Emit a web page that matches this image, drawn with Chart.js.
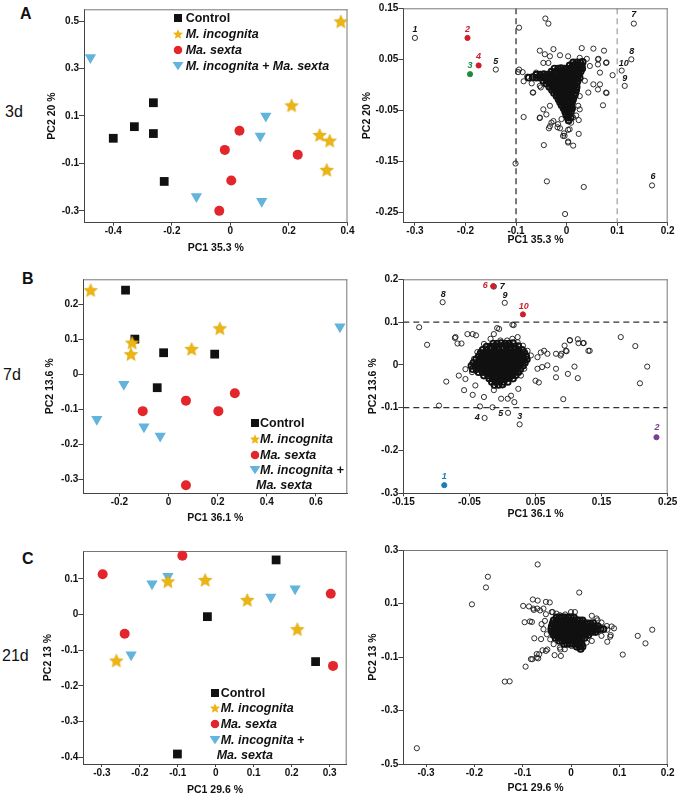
<!DOCTYPE html>
<html><head><meta charset="utf-8">
<script src="https://cdn.jsdelivr.net/npm/chart.js@4.4.1/dist/chart.umd.min.js"></script>
<style>
body{margin:0;background:#fff;}
#wrap{position:relative;width:680px;height:799px;overflow:hidden;background:#fff;font-family:"Liberation Sans",Arial,Helvetica,sans-serif;color:#111;}
#wrap canvas{position:absolute;}
.t{position:absolute;white-space:nowrap;transform:translateY(-50%);line-height:1;}
.lg{font-weight:bold;font-size:12.5px;}
.lg i{font-style:italic;}
.mk{position:absolute;transform:translate(-50%,-50%);line-height:0;}
.pl{font-weight:bold;font-size:16px;}
.dl{font-size:16px;}
</style></head><body><div id="wrap"></div>
<script>
// ---------------- DATA ----------------
const groupNames = ['Control', 'M. incognita', 'Ma. sexta', 'M. incognita + Ma. sexta'];

// Panel A (3d) scores
const a3dControl   = [[-0.400,0.006],[-0.328,0.055],[-0.263,0.156],[-0.263,0.026],[-0.226,-0.176]];
const a3dIncognita = [[0.377,0.499],[0.209,0.145],[0.305,0.020],[0.339,-0.004],[0.329,-0.127]];
const a3dSexta     = [[0.031,0.038],[-0.019,-0.043],[0.230,-0.063],[0.003,-0.172],[-0.038,-0.300]];
const a3dBoth      = [[-0.478,0.347],[0.121,0.100],[0.102,0.016],[-0.116,-0.240],[0.107,-0.260]];
const aXTicks = [-0.4,-0.2,0,0.2,0.4];
const aYTicks = [-0.3,-0.1,0.1,0.3,0.5];

// Panel A (3d) loadings
const aLoadOuter = [[-0.094,0.112],[-0.042,0.130],[-0.036,0.120],[-0.101,-0.154],[-0.039,-0.189],[0.034,-0.200],[-0.003,-0.253],[-0.045,-0.118],[-0.085,-0.063],[-0.067,-0.015],[-0.053,-0.065],[-0.035,-0.085],[-0.030,-0.074],[-0.018,-0.083],[-0.013,-0.085],[0.003,-0.088],[-0.005,-0.095],[-0.004,-0.100],[0.003,-0.111],[0.013,-0.119],[0.024,-0.096],[0.024,-0.069],[0.072,-0.040],[0.079,-0.016],[0.091,0.019],[0.079,0.044],[0.074,0.067],[0.053,0.071],[0.030,0.072],[-0.026,0.070],[-0.053,0.067],[0.063,0.051],[0.066,0.001],[-0.087,0.025],[-0.085,0.007],[-0.078,0.016],[-0.069,0.003],[-0.051,-0.005],[-0.043,0.060],[-0.033,0.056],[-0.013,0.058],[0.003,0.056],[0.026,0.053],[0.040,0.051],[0.062,0.050],[0.078,0.043],[0.062,0.040],[-0.046,0.043],[-0.036,0.043],[0.046,0.037],[0.066,0.024],[-0.096,0.025],[-0.060,0.024],[-0.066,-0.015],[-0.053,-0.002],[0.036,0.008],[0.053,0.001],[0.062,-0.009],[0.078,-0.015],[0.026,-0.022],[0.043,-0.015],[-0.033,-0.041],[-0.046,-0.048],[-0.053,-0.064],[-0.040,-0.058],[-0.026,-0.071],[-0.010,-0.067],[0.013,-0.064],[0.023,-0.041],[0.026,-0.048],[-0.033,-0.081],[-0.017,-0.077],[0.006,-0.087],[-0.007,-0.100],[0.003,-0.113],[0.009,-0.074],[0.019,-0.060],[0.006,-0.051],[-0.094,0.030]];
const aLoadCore = [[0.013,0.044],[0.020,0.044],[0.027,0.044],[0.032,0.045],[0.006,0.038],[0.012,0.038],[0.018,0.039],[0.024,0.038],[0.030,0.038],[-0.024,0.032],[-0.017,0.032],[-0.011,0.033],[-0.004,0.032],[0.002,0.032],[0.008,0.032],[0.014,0.033],[0.020,0.032],[0.026,0.032],[0.031,0.032],[-0.030,0.026],[-0.021,0.026],[-0.014,0.027],[-0.008,0.026],[-0.001,0.026],[0.005,0.026],[0.011,0.026],[0.017,0.027],[0.023,0.026],[0.028,0.026],[-0.060,0.020],[-0.052,0.020],[-0.045,0.021],[-0.038,0.020],[-0.031,0.020],[-0.025,0.020],[-0.019,0.021],[-0.013,0.020],[-0.007,0.020],[0.000,0.020],[0.006,0.021],[0.012,0.020],[0.018,0.020],[0.024,0.020],[-0.075,0.014],[-0.067,0.015],[-0.060,0.014],[-0.053,0.014],[-0.046,0.014],[-0.040,0.015],[-0.034,0.014],[-0.028,0.014],[-0.022,0.014],[-0.016,0.015],[-0.010,0.014],[-0.004,0.014],[0.003,0.014],[0.009,0.015],[0.015,0.014],[0.021,0.014],[0.026,0.014],[-0.046,0.008],[-0.039,0.008],[-0.032,0.009],[-0.026,0.008],[-0.020,0.008],[-0.014,0.008],[-0.008,0.009],[-0.002,0.008],[0.004,0.008],[0.010,0.008],[0.016,0.009],[0.022,0.008],[-0.040,0.002],[-0.034,0.002],[-0.028,0.003],[-0.022,0.002],[-0.016,0.002],[-0.010,0.002],[-0.004,0.003],[0.002,0.002],[0.008,0.002],[0.014,0.002],[0.020,0.003],[-0.034,-0.004],[-0.028,-0.004],[-0.022,-0.003],[-0.016,-0.004],[-0.010,-0.004],[-0.004,-0.004],[0.002,-0.003],[0.008,-0.004],[0.014,-0.004],[0.020,-0.004],[-0.029,-0.010],[-0.023,-0.010],[-0.017,-0.009],[-0.011,-0.010],[-0.005,-0.010],[0.001,-0.010],[0.007,-0.009],[0.013,-0.010],[0.019,-0.010],[-0.025,-0.016],[-0.019,-0.016],[-0.013,-0.015],[-0.007,-0.016],[-0.001,-0.016],[0.005,-0.016],[0.011,-0.015],[0.017,-0.016],[-0.020,-0.022],[-0.014,-0.022],[-0.008,-0.021],[-0.002,-0.022],[0.004,-0.022],[0.010,-0.022],[0.016,-0.021],[-0.016,-0.028],[-0.010,-0.028],[-0.004,-0.027],[0.002,-0.028],[0.008,-0.028],[0.013,-0.028],[-0.013,-0.034],[-0.007,-0.034],[-0.001,-0.033],[0.005,-0.034],[0.011,-0.034],[-0.010,-0.040],[-0.004,-0.040],[0.002,-0.039],[0.008,-0.040],[-0.006,-0.046],[0.000,-0.046],[0.006,-0.045],[0.011,-0.046],[-0.003,-0.052],[0.003,-0.052],[0.009,-0.051],[-0.001,-0.058],[0.005,-0.058],[0.002,-0.064],[0.008,-0.064],[0.004,-0.070]];
const aLabNames = ['1','2','3','4','5','6','7','8','9','10'];
const aLabPts = [[-0.300,0.092],[-0.196,0.092],[-0.191,0.021],[-0.174,0.038],[-0.140,0.030],[0.169,-0.197],[0.133,0.120],[0.128,0.050],[0.115,-0.002],[0.109,0.028]];
const aRefX = [-0.1, 0.1];
const aLoadXTicks = [-0.3,-0.2,-0.1,0,0.1,0.2];
const aLoadYTicks = [-0.25,-0.15,-0.05,0.05,0.15];

// Panel B (7d) scores
const b7dControl   = [[-0.175,0.241],[-0.137,0.101],[-0.020,0.062],[0.188,0.058],[-0.046,-0.038]];
const b7dIncognita = [[-0.317,0.241],[-0.148,0.091],[-0.153,0.058],[0.094,0.073],[0.209,0.132]];
const b7dSexta     = [[0.071,-0.075],[-0.105,-0.105],[0.203,-0.105],[0.270,-0.054],[0.071,-0.317]];
const b7dBoth      = [[0.698,0.136],[-0.182,-0.028],[-0.292,-0.128],[-0.100,-0.150],[-0.034,-0.176]];
const bXTicks = [-0.2,0,0.2,0.4,0.6];
const bYTicks = [-0.3,-0.2,-0.1,0,0.1,0.2];

// Panel B (7d) loadings
const bLoadOuter = [[-0.071,0.065],[0.017,0.093],[-0.053,0.072],[-0.045,0.072],[-0.040,0.069],[-0.068,0.050],[-0.062,0.050],[-0.013,0.072],[-0.005,0.084],[-0.003,0.057],[0.007,0.057],[0.015,0.061],[0.023,0.053],[0.020,0.045],[0.102,0.057],[0.115,0.051],[0.123,0.051],[0.132,0.033],[0.094,0.045],[0.097,0.032],[0.081,0.026],[0.088,0.022],[0.063,0.033],[0.058,0.029],[0.068,0.026],[0.053,0.018],[0.068,-0.001],[0.060,-0.005],[0.053,-0.009],[0.081,-0.009],[0.099,-0.021],[0.109,-0.004],[0.114,-0.031],[0.081,-0.029],[0.050,-0.037],[0.055,-0.041],[0.092,-0.080],[-0.085,-0.039],[-0.066,-0.025],[-0.056,-0.033],[-0.058,-0.059],[-0.045,-0.070],[-0.056,-0.010],[-0.041,-0.048],[-0.028,-0.075],[-0.013,-0.059],[-0.002,-0.079],[0.008,-0.079],[0.018,-0.087],[0.024,-0.056],[0.013,-0.072],[-0.015,-0.099],[-0.034,-0.097],[-0.096,-0.095],[-0.126,0.088],[-0.114,0.047],[0.179,0.065],[0.201,0.044],[0.219,-0.004],[0.208,-0.043],[0.130,0.033],[0.122,0.051],[0.096,0.033],[0.089,0.026],[-0.072,0.063],[-0.008,0.086],[0.015,0.094],[0.038,0.033],[0.043,0.022],[0.035,0.010],[0.033,-0.009],[0.028,-0.025],[-0.038,0.030],[-0.043,0.014],[-0.046,-0.017],[-0.028,0.049],[0.031,0.045],[-0.018,0.061],[0.023,0.065],[0.102,0.058],[0.114,0.060]];
const bLoadCore = [[-0.014,0.050],[-0.008,0.050],[-0.002,0.051],[0.004,0.050],[0.010,0.050],[0.016,0.051],[-0.024,0.043],[-0.018,0.043],[-0.012,0.044],[-0.006,0.043],[0.000,0.043],[0.006,0.044],[0.012,0.043],[0.018,0.043],[0.024,0.044],[-0.030,0.035],[-0.024,0.035],[-0.018,0.036],[-0.012,0.035],[-0.006,0.035],[0.000,0.036],[0.006,0.035],[0.012,0.035],[0.018,0.036],[0.024,0.035],[0.030,0.035],[-0.033,0.028],[-0.027,0.028],[-0.021,0.029],[-0.015,0.028],[-0.009,0.028],[-0.003,0.029],[0.003,0.028],[0.009,0.028],[0.015,0.029],[0.021,0.028],[0.027,0.028],[0.033,0.029],[-0.036,0.020],[-0.030,0.020],[-0.024,0.021],[-0.018,0.020],[-0.012,0.020],[-0.006,0.021],[0.000,0.020],[0.006,0.020],[0.012,0.021],[0.018,0.020],[0.024,0.020],[0.030,0.021],[0.036,0.020],[-0.040,0.013],[-0.034,0.013],[-0.028,0.014],[-0.022,0.013],[-0.016,0.013],[-0.010,0.014],[-0.004,0.013],[0.002,0.013],[0.008,0.014],[0.014,0.013],[0.020,0.013],[0.026,0.014],[0.032,0.013],[0.037,0.013],[-0.044,0.005],[-0.038,0.005],[-0.032,0.006],[-0.026,0.005],[-0.020,0.005],[-0.014,0.006],[-0.008,0.005],[-0.002,0.005],[0.004,0.006],[0.010,0.005],[0.016,0.005],[0.022,0.006],[0.028,0.005],[0.034,0.005],[-0.047,-0.002],[-0.041,-0.002],[-0.035,-0.001],[-0.029,-0.002],[-0.023,-0.002],[-0.017,-0.001],[-0.011,-0.002],[-0.005,-0.002],[0.001,-0.001],[0.007,-0.002],[0.013,-0.002],[0.019,-0.001],[0.025,-0.002],[0.031,-0.002],[-0.045,-0.010],[-0.039,-0.010],[-0.033,-0.009],[-0.027,-0.010],[-0.021,-0.010],[-0.015,-0.009],[-0.009,-0.010],[-0.003,-0.010],[0.003,-0.009],[0.009,-0.010],[0.015,-0.010],[0.021,-0.009],[0.027,-0.010],[-0.036,-0.017],[-0.030,-0.017],[-0.024,-0.016],[-0.018,-0.017],[-0.012,-0.017],[-0.006,-0.016],[0.000,-0.017],[0.006,-0.017],[0.012,-0.016],[0.018,-0.017],[0.024,-0.017],[-0.028,-0.025],[-0.022,-0.025],[-0.016,-0.024],[-0.010,-0.025],[-0.004,-0.025],[0.002,-0.024],[0.008,-0.025],[0.014,-0.025],[0.020,-0.024],[-0.020,-0.032],[-0.014,-0.032],[-0.008,-0.031],[-0.002,-0.032],[0.004,-0.032],[0.010,-0.031],[0.016,-0.032],[-0.016,-0.040],[-0.010,-0.040],[-0.004,-0.039],[0.002,-0.040],[0.008,-0.040],[-0.012,-0.047],[-0.006,-0.047],[0.000,-0.046]];
const bLabNames = ['1','2','3','4','5','7','6','8','9','10'];
const bLabPts = [[-0.088,-0.281],[0.233,-0.169],[0.026,-0.139],[-0.027,-0.124],[0.0085,-0.112],[-0.013,0.183],[-0.014,0.184],[-0.0905,0.1465],[0.0035,0.145],[0.031,0.118]];
const bRefY = [-0.1, 0.1];
const bLoadXTicks = [-0.15,-0.05,0.05,0.15,0.25];
const bLoadYTicks = [-0.3,-0.2,-0.1,0,0.1,0.2];

// Panel C (21d) scores
const c21dControl   = [[0.159,0.153],[-0.022,-0.006],[0.263,-0.132],[-0.101,-0.391]];
const c21dIncognita = [[-0.028,0.097],[-0.126,0.093],[0.083,0.041],[0.215,-0.041],[-0.262,-0.129]];
const c21dSexta     = [[-0.088,0.165],[-0.298,0.113],[0.303,0.058],[-0.240,-0.054],[0.309,-0.144]];
const c21dBoth      = [[-0.126,0.107],[-0.168,0.086],[0.145,0.049],[0.209,0.072],[-0.223,-0.113]];
const cXTicks = [-0.3,-0.2,-0.1,0,0.1,0.2,0.3];
const cYTicks = [-0.4,-0.3,-0.2,-0.1,0,0.1];

// Panel C (21d) loadings
const cLoadOuter = [[-0.069,0.246],[-0.172,0.200],[-0.176,0.160],[-0.205,0.097],[0.017,0.141],[-0.099,0.091],[-0.096,0.030],[-0.085,0.033],[-0.079,0.115],[-0.069,0.111],[-0.077,0.076],[-0.087,0.089],[-0.064,0.074],[-0.052,0.106],[-0.137,-0.192],[-0.127,-0.191],[-0.319,-0.441],[-0.094,-0.136],[-0.083,-0.108],[-0.071,-0.089],[-0.068,-0.105],[0.138,-0.021],[0.154,-0.049],[0.168,0.002],[0.107,-0.091],[0.075,-0.043],[0.082,-0.018],[0.089,0.007],[0.075,0.002],[0.055,0.037],[-0.034,-0.093],[-0.049,-0.072],[-0.059,-0.075],[-0.062,-0.033],[-0.076,-0.030],[-0.054,0.035],[-0.040,0.068],[-0.022,-0.072],[-0.012,0.059],[0.000,0.068],[-0.081,0.031],[-0.070,0.081],[-0.078,0.081],[-0.057,0.081],[-0.044,0.104],[-0.052,0.060],[-0.038,0.068],[-0.030,0.062],[0.008,0.068],[-0.023,0.056],[-0.061,0.023],[-0.057,0.004],[-0.050,-0.015],[-0.043,-0.034],[-0.052,-0.077],[-0.036,-0.052],[-0.023,-0.065],[-0.013,-0.071],[0.001,-0.059],[0.019,-0.071],[0.032,-0.046],[0.043,-0.040],[0.053,0.044],[0.063,0.029],[0.074,0.016],[0.084,0.014],[0.063,-0.021],[0.081,-0.024],[0.056,-0.002],[-0.071,-0.102],[-0.066,-0.090],[-0.080,-0.108],[-0.021,-0.096],[0.043,0.054]];
const cLoadCore = [[-0.030,0.048],[-0.024,0.048],[-0.018,0.049],[-0.012,0.048],[-0.006,0.048],[0.000,0.049],[0.006,0.048],[-0.036,0.037],[-0.030,0.037],[-0.024,0.038],[-0.018,0.037],[-0.012,0.037],[-0.006,0.038],[0.000,0.037],[0.006,0.037],[0.012,0.038],[0.018,0.037],[0.024,0.037],[-0.038,0.026],[-0.032,0.026],[-0.026,0.027],[-0.020,0.026],[-0.014,0.026],[-0.008,0.027],[-0.002,0.026],[0.004,0.026],[0.010,0.027],[0.016,0.026],[0.022,0.026],[0.028,0.027],[0.034,0.026],[0.040,0.026],[0.046,0.027],[-0.040,0.015],[-0.034,0.015],[-0.028,0.016],[-0.022,0.015],[-0.016,0.015],[-0.010,0.016],[-0.004,0.015],[0.002,0.015],[0.008,0.016],[0.014,0.015],[0.020,0.015],[0.026,0.016],[0.032,0.015],[0.038,0.015],[0.044,0.016],[0.050,0.015],[0.056,0.015],[-0.041,0.004],[-0.035,0.004],[-0.029,0.005],[-0.023,0.004],[-0.017,0.004],[-0.011,0.005],[-0.005,0.004],[0.001,0.004],[0.007,0.005],[0.013,0.004],[0.019,0.004],[0.025,0.005],[0.031,0.004],[0.037,0.004],[0.043,0.005],[0.049,0.004],[0.055,0.004],[0.061,0.005],[0.067,0.004],[-0.039,-0.007],[-0.033,-0.007],[-0.027,-0.006],[-0.021,-0.007],[-0.015,-0.007],[-0.009,-0.006],[-0.003,-0.007],[0.003,-0.007],[0.009,-0.006],[0.015,-0.007],[0.021,-0.007],[0.027,-0.006],[0.033,-0.007],[0.039,-0.007],[0.045,-0.006],[0.051,-0.007],[-0.036,-0.018],[-0.030,-0.018],[-0.024,-0.017],[-0.018,-0.018],[-0.012,-0.018],[-0.006,-0.017],[0.000,-0.018],[0.006,-0.018],[0.012,-0.017],[0.018,-0.018],[0.024,-0.018],[0.030,-0.017],[0.036,-0.018],[-0.032,-0.029],[-0.026,-0.029],[-0.020,-0.028],[-0.014,-0.029],[-0.008,-0.029],[-0.002,-0.028],[0.004,-0.029],[0.010,-0.029],[0.016,-0.028],[0.022,-0.029],[0.028,-0.029],[-0.024,-0.040],[-0.018,-0.040],[-0.012,-0.039],[-0.006,-0.040],[0.000,-0.040],[0.006,-0.039],[0.012,-0.040],[0.018,-0.040],[-0.014,-0.051],[-0.008,-0.051],[-0.002,-0.050],[0.004,-0.051],[0.010,-0.051],[0.016,-0.050],[0.022,-0.051],[0.012,-0.062],[0.018,-0.062],[0.024,-0.061],[0.020,-0.070]];
const cLoadXTicks = [-0.3,-0.2,-0.1,0,0.1,0.2];
const cLoadYTicks = [-0.5,-0.3,-0.1,0.1,0.3];

// ---------------- STYLE ----------------
const FONT = '"Liberation Sans", Arial, Helvetica, sans-serif';
Chart.defaults.font.family = FONT;
const COL = {ctrl:'#111111', inc:'#ecb513', sex:'#e2262b', both:'#62b4dc', red:'#cc1f2d', green:'#1e8b3a', blue:'#1b7db8', purple:'#7a3d8f', open:'rgba(255,255,255,0)'};
const TITLE_FS = 10.5, TITLE_LH = TITLE_FS * 1.2;

function makeStar(R, fill) {
  const s = Math.ceil(R * 2 + 2);
  const c = document.createElement('canvas'); c.width = s; c.height = s;
  const g = c.getContext('2d');
  const cx = s / 2, cy = s / 2 + R * 0.095;
  g.beginPath();
  for (let i = 0; i < 10; i++) {
    const r = i % 2 === 0 ? R : R * 0.45;
    const a = -Math.PI / 2 + i * Math.PI / 5;
    g.lineTo(cx + r * Math.cos(a), cy + r * Math.sin(a));
  }
  g.closePath(); g.fillStyle = fill; g.fill();
  g.strokeStyle = '#d9a200'; g.lineWidth = 0.6; g.stroke();
  return c;
}
const starImg = makeStar(7, COL.inc);

const toXY = arr => arr.map(p => ({x: p[0], y: p[1]}));
const fmt = v => String(Math.round(v * 100) / 100);

function axis(min, max, ticksArr, title, titlePad, size, isX) {
  return {
    type: 'linear', min, max,
    afterBuildTicks: s => { s.ticks = ticksArr.map(v => ({value: v})); },
    afterFit: s => { if (isX) s.height = size; else s.width = size; s.paddingLeft = 0; s.paddingRight = 0; s.paddingTop = 0; s.paddingBottom = 0; },
    grid: {display: true, drawOnChartArea: false, drawTicks: true, tickLength: isX ? 3 : 5, color: '#444', lineWidth: 1},
    border: {display: true, color: '#444', width: 1},
    ticks: {padding: 0, color: '#111', autoSkip: false, maxRotation: 0, font: {size: 10, weight: 'bold'}, callback: v => fmt(v)},
    title: {display: true, text: title, color: '#111', font: {size: TITLE_FS, weight: 'bold'}, padding: titlePad}
  };
}

const deco = {
  id: 'deco',
  beforeDatasetsDraw(chart, args, o) {
    const {ctx, chartArea: a, scales} = chart;
    ctx.save();
    (o.refX || []).forEach((v, i) => {
      const st = o.refXStyle[i]; const px = scales.x.getPixelForValue(v);
      ctx.beginPath(); ctx.setLineDash(st.dash); ctx.strokeStyle = st.color; ctx.lineWidth = st.width;
      ctx.moveTo(px, a.top); ctx.lineTo(px, a.bottom); ctx.stroke();
    });
    (o.refY || []).forEach((v, i) => {
      const st = o.refYStyle[i]; const py = scales.y.getPixelForValue(v);
      ctx.beginPath(); ctx.setLineDash(st.dash); ctx.strokeStyle = st.color; ctx.lineWidth = st.width;
      ctx.moveTo(a.left, py); ctx.lineTo(a.right, py); ctx.stroke();
    });
    ctx.setLineDash([]);
    ctx.strokeStyle = '#777'; ctx.lineWidth = 1;
    ctx.beginPath(); ctx.moveTo(a.left, a.top + 0.5); ctx.lineTo(a.right, a.top + 0.5);
    ctx.moveTo(a.right - 0.5, a.top); ctx.lineTo(a.right - 0.5, a.bottom); ctx.stroke();
    ctx.restore();
  },
  afterDatasetsDraw(chart, args, o) {
    if (!o.labels) return;
    const {ctx} = chart; const L = o.labels;
    const meta = chart.getDatasetMeta(L.dataset);
    ctx.save();
    ctx.font = 'italic bold 9px ' + FONT; ctx.textAlign = 'center'; ctx.textBaseline = 'middle';
    L.names.forEach((n, i) => {
      const el = meta.data[i];
      ctx.fillStyle = L.colors[i];
      ctx.fillText(n, el.x + L.off[i][0], el.y + L.off[i][1]);
    });
    ctx.restore();
  }
};

const wrap = document.getElementById('wrap');

function build(p) {
  const c = document.createElement('canvas');
  c.width = p.box.w; c.height = p.box.h;
  Object.assign(c.style, {left: p.box.x + 'px', top: p.box.y + 'px', width: p.box.w + 'px', height: p.box.h + 'px'});
  wrap.appendChild(c);
  const yPad = p.yTitleX - p.box.x - TITLE_LH / 2;
  const xPad = p.box.y + p.box.h - TITLE_LH / 2 - p.xTitleY;
  new Chart(c, {
    type: 'scatter',
    data: {datasets: p.datasets},
    options: {
      responsive: false, animation: false, devicePixelRatio: 1, events: [],
      layout: {padding: {left: 0, top: p.area.t - p.box.y, right: p.box.x + p.box.w - p.area.r, bottom: 0}},
      scales: {
        x: axis(p.x[0], p.x[1], p.xTicks, p.xTitle, {top: 0, bottom: xPad}, p.box.y + p.box.h - p.area.b, true),
        y: axis(p.y[0], p.y[1], p.yTicks, p.yTitle, {top: yPad, bottom: 0}, p.area.l - p.box.x, false)
      },
      plugins: {legend: {display: false}, tooltip: {enabled: false}, deco: p.deco || {}}
    },
    plugins: [deco]
  });
}

function scoreSets(ctrl, inc, sex, both) {
  return [
    {label: groupNames[1], data: toXY(inc), pointStyle: starImg, pointRadius: 7, order: 0, clip: false},
    {label: groupNames[0], data: toXY(ctrl), pointStyle: 'rect', pointRadius: 6.2, pointBackgroundColor: COL.ctrl, pointBorderColor: COL.ctrl, pointBorderWidth: 0, order: 1, clip: false},
    {label: groupNames[2], data: toXY(sex), pointStyle: 'circle', pointRadius: 5, pointBackgroundColor: COL.sex, pointBorderColor: COL.sex, pointBorderWidth: 0, order: 2, clip: false},
    {label: groupNames[3], data: toXY(both), pointStyle: 'triangle', pointRotation: 180, pointRadius: 6.5, pointBackgroundColor: COL.both, pointBorderColor: COL.both, pointBorderWidth: 0, order: 3, clip: false}
  ];
}
function loadSets(outer, core, labPts, fills) {
  return [
    {label: 'loadings', data: toXY(outer), pointStyle: 'circle', pointRadius: 2.6, pointBorderWidth: 0.9, pointBorderColor: '#1a1a1a', pointBackgroundColor: COL.open, order: 2, clip: false},
    {label: 'labelled', data: toXY(labPts), pointStyle: 'circle', pointRadius: 2.6, pointBorderWidth: 0.9,
     pointBackgroundColor: fills.map(f => f || COL.open), pointBorderColor: fills.map(f => f || '#1a1a1a'), order: 0, clip: false},
    {label: 'loadings (dense centre)', data: toXY(core), pointStyle: 'circle', pointRadius: 2.9, pointBorderWidth: 1.9, pointBorderColor: '#111', pointBackgroundColor: COL.open, order: 1, clip: false}
  ];
}

// Panel A
build({box: {x: 43, y: 0, w: 320, h: 260}, area: {l: 84, t: 9.3, r: 347.5, b: 222.7}, yTitleX: 51.7, xTitleY: 248.3,
  x: [-0.5, 0.4], y: [-0.35, 0.55], xTicks: aXTicks, yTicks: aYTicks, xTitle: 'PC1 35.3 %', yTitle: 'PC2 20 %',
  datasets: scoreSets(a3dControl, a3dIncognita, a3dSexta, a3dBoth)});
const aFills = [null, COL.red, COL.green, COL.red, null, null, null, null, null, null];
build({box: {x: 358, y: 0, w: 322, h: 252}, area: {l: 403.3, t: 8.3, r: 667.7, b: 222.7}, yTitleX: 366.7, xTitleY: 240.5,
  x: [-0.323, 0.2], y: [-0.27, 0.15], xTicks: aLoadXTicks, yTicks: aLoadYTicks, xTitle: 'PC1 35.3 %', yTitle: 'PC2 20 %',
  datasets: loadSets(aLoadOuter, aLoadCore, aLabPts, aFills),
  deco: {refX: aRefX, refXStyle: [{color: '#333', width: 1.3, dash: [6, 4]}, {color: '#8a8a8a', width: 1, dash: [6, 4]}],
    labels: {dataset: 1, names: aLabNames,
      colors: ['#111', COL.red, COL.green, COL.red, '#111', '#111', '#111', '#111', '#111', '#111'],
      off: [[0,-8.5],[0,-8.5],[0,-9],[0,-8.5],[0,-8.5],[1,-8.5],[0,-9],[0.5,-8.3],[0,-7.7],[2,-7]]}}});

// Panel B
build({box: {x: 42, y: 270, w: 321, h: 260}, area: {l: 83.3, t: 279.3, r: 347.3, b: 493.3}, yTitleX: 50, xTitleY: 518.3,
  x: [-0.347, 0.728], y: [-0.34, 0.272], xTicks: bXTicks, yTicks: bYTicks, xTitle: 'PC1 36.1 %', yTitle: 'PC2 13.6 %',
  datasets: scoreSets(b7dControl, b7dIncognita, b7dSexta, b7dBoth)});
const bFills = [COL.blue, COL.purple, null, null, null, null, COL.red, null, null, COL.red];
build({box: {x: 365, y: 270, w: 315, h: 255}, area: {l: 403.3, t: 279.3, r: 667.7, b: 493.3}, yTitleX: 373.3, xTitleY: 514,
  x: [-0.15, 0.25], y: [-0.3, 0.2], xTicks: bLoadXTicks, yTicks: bLoadYTicks, xTitle: 'PC1 36.1 %', yTitle: 'PC2 13.6 %',
  datasets: loadSets(bLoadOuter, bLoadCore, bLabPts, bFills),
  deco: {refY: bRefY, refYStyle: [{color: '#333', width: 1.3, dash: [6, 4]}, {color: '#333', width: 1.3, dash: [6, 4]}],
    labels: {dataset: 1, names: bLabNames,
      colors: [COL.blue, COL.purple, '#111', '#111', '#111', '#111', COL.red, '#111', '#111', COL.red],
      off: [[0,-9],[0.5,-9.3],[0,-7.4],[-7.3,-0.7],[-7.3,0.3],[8.5,0],[-8,-0.6],[0.7,-7.6],[0.3,-7.3],[0.7,-8]]}}});

// Panel C
build({box: {x: 40, y: 540, w: 323, h: 259}, area: {l: 83.3, t: 551, r: 346.7, b: 764}, yTitleX: 48.3, xTitleY: 790,
  x: [-0.349, 0.345], y: [-0.419, 0.178], xTicks: cXTicks, yTicks: cYTicks, xTitle: 'PC1 29.6 %', yTitle: 'PC2 13 %',
  datasets: scoreSets(c21dControl, c21dIncognita, c21dSexta, c21dBoth)});
build({box: {x: 365, y: 540, w: 315, h: 259}, area: {l: 403.3, t: 550, r: 667.7, b: 764}, yTitleX: 373.3, xTitleY: 788.3,
  x: [-0.347, 0.2], y: [-0.5, 0.3], xTicks: cLoadXTicks, yTicks: cLoadYTicks, xTitle: 'PC1 29.6 %', yTitle: 'PC2 13 %',
  datasets: loadSets(cLoadOuter, cLoadCore, [], [])});

// ---------------- TEXT / LEGENDS ----------------
function starPts(cx, cy, R) {
  const pts = [];
  for (let i = 0; i < 10; i++) { const r = i % 2 === 0 ? R : R * 0.45; const a = -Math.PI / 2 + i * Math.PI / 5; pts.push((cx + r * Math.cos(a)).toFixed(2) + ',' + (cy + r * Math.sin(a)).toFixed(2)); }
  return pts.join(' ');
}
const MARK = {
  sq: '<svg width="8" height="8"><rect width="8" height="8" fill="' + COL.ctrl + '"/></svg>',
  star: '<svg width="11" height="11"><polygon points="' + starPts(5.5, 6, 5.3) + '" fill="' + COL.inc + '"/></svg>',
  circ: '<svg width="9" height="9"><circle cx="4.5" cy="4.5" r="4.3" fill="' + COL.sex + '"/></svg>',
  tri: '<svg width="11" height="9"><polygon points="0,0.5 11,0.5 5.5,8.7" fill="' + COL.both + '"/></svg>'
};
function addText(cls, x, y, html) {
  const d = document.createElement('div'); d.className = 't ' + cls; d.style.left = x + 'px'; d.style.top = y + 'px'; d.innerHTML = html; wrap.appendChild(d); return d;
}
function addMark(kind, x, y) {
  const d = document.createElement('div'); d.className = 'mk'; d.style.left = x + 'px'; d.style.top = y + 'px'; d.innerHTML = MARK[kind]; wrap.appendChild(d);
}
function legend(mx, tx, rows, contX, contY, twoLine) {
  const kinds = ['sq', 'star', 'circ', 'tri'];
  const texts = [groupNames[0], '<i>' + groupNames[1] + '</i>', '<i>' + groupNames[2] + '</i>', twoLine ? '<i>M. incognita +</i>' : '<i>' + groupNames[3] + '</i>'];
  rows.forEach((y, i) => { addMark(kinds[i], mx, y); addText('lg', tx, y, texts[i]); });
  if (twoLine) addText('lg', contX, contY, '<i>Ma. sexta</i>');
}
legend(178.3, 185.7, [18.3, 34, 50, 65.7], 0, 0, false);
legend(254.5, 260, [423.3, 438.7, 455, 470], 256, 485, true);
legend(215, 220.7, [692.7, 708.3, 724.3, 740], 216.7, 755, true);

addText('pl', 20, 14, 'A');
addText('pl', 22, 278.5, 'B');
addText('pl', 22, 559, 'C');
addText('dl', 5, 112, '3d');
addText('dl', 3, 375, '7d');
addText('dl', 2, 656, '21d');
</script></body></html>
